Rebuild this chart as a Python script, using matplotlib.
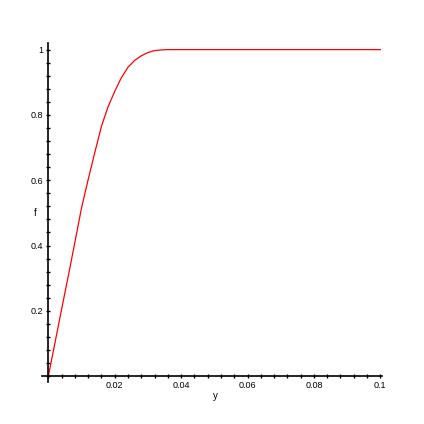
import numpy as np
import matplotlib
matplotlib.use("Agg")
import matplotlib.pyplot as plt
from matplotlib.ticker import MultipleLocator

# curve
y_vals = [0, 0.002, 0.004, 0.006, 0.008, 0.010, 0.012, 0.014, 0.016, 0.018,
          0.020, 0.022, 0.024, 0.026, 0.028, 0.030, 0.032, 0.034, 0.036, 0.1]
f_vals = [0, 0.102, 0.205, 0.306, 0.41, 0.515, 0.602, 0.685, 0.765, 0.825,
          0.872, 0.914, 0.946, 0.967, 0.981, 0.991, 0.997, 0.999, 1.0, 1.0]

x_ticks = [0.02, 0.04, 0.06, 0.08, 0.1]
x_labels = ["0.02", "0.04", "0.06", "0.08", "0.1"]
y_ticks = [0.2, 0.4, 0.6, 0.8, 1.0]
y_labels = ["0.2", "0.4", "0.6", "0.8", "1"]

plt.rcParams['font.family'] = ['Liberation Sans', 'DejaVu Sans']

fig = plt.figure(figsize=(4.24, 4.24), dpi=100)
ax = fig.add_axes([0.0983, 0.0998, 0.8026, 0.7986])

ax.plot(y_vals, f_vals, color='red', linewidth=0.9)

ax.set_xlim(-0.002, 0.1005)
ax.set_ylim(-0.017, 1.02)

# maple style axes through the origin
ax.spines['left'].set_position(('data', 0))
ax.spines['bottom'].set_position(('data', 0))
ax.spines['right'].set_visible(False)
ax.spines['top'].set_visible(False)
for s in ('left', 'bottom'):
    ax.spines[s].set_linewidth(1.2)

ax.set_xticks(x_ticks)
ax.set_xticklabels(x_labels)
ax.set_yticks(y_ticks)
ax.set_yticklabels(y_labels)
ax.xaxis.set_minor_locator(MultipleLocator(0.004))
ax.yaxis.set_minor_locator(MultipleLocator(0.04))
ax.tick_params(which='both', direction='inout', length=3, width=1, labelsize=6.5, pad=2)

ax.text(0.0503, -0.06, "y", fontsize=7, ha='center', va='center')
ax.text(-0.004, 0.5, "f", fontsize=7, ha='center', va='center')

fig.savefig("out.png", dpi=100)
